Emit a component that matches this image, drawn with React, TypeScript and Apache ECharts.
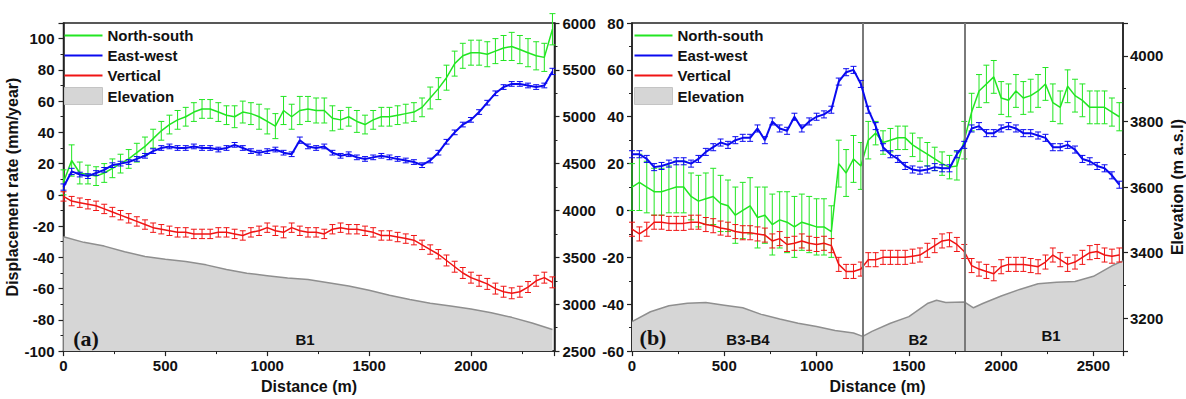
import React, { useEffect, useRef } from "react";
import * as echarts from "echarts";

// ---------- Panel (a) ----------
const DIST_A = [
  0, 40, 80, 120, 160, 200, 240, 280, 320, 360,
  400, 440, 480, 520, 560, 600, 640, 680, 720, 760,
  800, 840, 880, 920, 960, 1000, 1040, 1080, 1120, 1160,
  1200, 1240, 1280, 1320, 1360, 1400, 1440, 1480, 1520, 1560,
  1600, 1640, 1680, 1720, 1760, 1800, 1840, 1880, 1920, 1960,
  2000, 2040, 2080, 2120, 2160, 2200, 2240, 2280, 2320, 2360,
  2400,
];
const NS_A = [
  8, 22, 14, 13, 12, 14, 17, 20, 23, 27,
  31, 36, 41, 45, 48, 50, 53, 55, 55, 53,
  51, 50, 53, 52, 50, 47, 44, 54, 50, 54,
  55, 54, 54, 49, 48, 50, 47, 45, 48, 50,
  50, 51, 52, 53, 56, 62, 68, 75, 84, 89,
  91, 91, 90, 92, 94, 95, 93, 91, 89, 88,
  106,
];
const NS_A_ERR = [
  8, 10, 7, 6, 6, 6, 6, 6, 6, 6,
  6, 6, 6, 6, 6, 6, 6, 6, 6, 6,
  6, 7, 7, 7, 8, 8, 8, 9, 8, 9,
  8, 8, 8, 8, 6, 6, 7, 6, 6, 6,
  6, 6, 6, 6, 6, 7, 7, 8, 8, 8,
  8, 8, 8, 8, 8, 9, 9, 9, 9, 9,
  10,
];
const EW_A = [
  5, 15, 13, 12, 14, 16, 19, 20, 21, 23,
  25, 28, 30, 31, 30, 30, 31, 30, 30, 29,
  30, 32, 30, 28, 27, 28, 29, 27, 26, 35,
  31, 30, 31, 27, 25, 26, 24, 23, 24, 25,
  24, 23, 22, 21, 19, 22, 27, 34, 40, 45,
  48, 53, 59, 65, 69, 71, 71, 70, 69, 70,
  79,
];
const EW_A_ERR = [
  2, 2, 1.5, 1.5, 1.5, 1.5, 1.5, 1.5, 1.5, 1.5,
  1.5, 1.5, 1.5, 1.5, 1.5, 1.5, 1.5, 1.5, 1.5, 1.5,
  1.5, 1.5, 1.5, 1.5, 1.5, 1.5, 1.5, 1.5, 1.5, 2,
  1.5, 1.5, 1.5, 1.5, 1.5, 1.5, 1.5, 1.5, 1.5, 1.5,
  1.5, 1.5, 1.5, 1.5, 1.5, 1.5, 1.5, 1.5, 1.5, 1.5,
  1.5, 1.5, 1.5, 1.5, 1.5, 1.5, 1.5, 1.5, 1.5, 1.5,
  2,
];
const V_A = [
  -1, -4, -5, -6, -7, -9, -11, -13, -15, -17,
  -19, -21, -22, -23, -24, -24, -25, -25, -25, -24,
  -24, -25, -26, -24, -23, -21, -23, -24, -21, -23,
  -24, -24, -25, -22, -21, -22, -22, -23, -24, -26,
  -26, -27, -28, -29, -32, -35, -38, -42, -46, -50,
  -53, -55, -57, -60, -62, -63, -62, -59, -55, -53,
  -56,
];
const V_A_ERR = [
  3, 3, 3, 3, 3, 3, 3, 3, 3, 3,
  3, 3, 3, 3, 3, 3, 3, 3, 3, 3,
  3, 3, 3, 3, 3, 3, 3, 3.5, 3, 3,
  3, 3, 3, 3, 3, 3, 3, 3, 3, 3,
  3, 3, 3, 3, 3, 3, 3, 3.5, 3.5, 3.5,
  3.5, 3.5, 3.5, 3.5, 3.5, 3.5, 3.5, 3.5, 3.5, 3.5,
  3.5,
];
const ELEV_A_DIST = [
  0, 100, 200, 300, 400, 500, 600, 700, 800, 900, 1000, 1100, 1200,
  1300, 1400, 1500, 1600, 1700, 1800, 1900, 2000, 2100, 2200, 2300, 2400,
];
const ELEV_A = [
  3720, 3660, 3620, 3560, 3510, 3480, 3455, 3420, 3370, 3330, 3305, 3280, 3265,
  3230, 3195, 3150, 3095, 3050, 3010, 2980, 2950, 2910, 2860, 2800, 2730,
];

// ---------- Panel (b) ----------
const DIST_B = [
  0, 40, 80, 120, 160, 200, 240, 280, 320, 360,
  400, 440, 480, 520, 560, 600, 640, 680, 720, 760,
  800, 840, 880, 920, 960, 1000, 1040, 1080, 1120, 1160,
  1200, 1240, 1280, 1320, 1360, 1400, 1440, 1480, 1520, 1560,
  1600, 1640, 1680, 1720, 1760, 1800, 1840, 1880, 1920, 1960,
  2000, 2040, 2080, 2120, 2160, 2200, 2240, 2280, 2320, 2360,
  2400, 2440, 2480, 2520, 2560, 2600, 2640,
];
const NS_B = [
  10, 12, 10, 8, 8, 9, 10, 10, 6, 4,
  5, 6, 3, 2, -2, 0, 2, -3, -2, -6,
  -4, -5, -7, -5, -6, -7, -7, -9, 20, 16,
  22, 19, 30, 33, 29, 30, 31, 31, 28, 26,
  24, 22, 20, 18.5, 19, 30, 42, 51, 54, 57,
  48, 47, 51, 48, 49, 51, 54, 46, 44, 53,
  49, 47, 44, 44, 44, 42, 40,
];
const NS_B_ERR = [
  10, 12, 11, 10, 10, 10, 11, 11, 10, 11,
  11, 12, 12, 11, 12, 12, 12, 13, 12, 13,
  12, 13, 13, 12, 12, 12, 12, 11, 10, 10,
  10, 10, 8, 5, 5, 5, 5, 5, 5, 5,
  5, 5, 5, 5, 6, 8, 8, 7, 8, 7,
  7, 7, 7, 7, 7, 7, 7, 8, 7, 7,
  7, 7, 7, 7, 7, 6, 6,
];
const EW_B = [
  24, 24, 22, 18.5, 19, 20, 21, 21, 20, 22,
  25, 27, 29, 28, 30, 31, 31, 35, 30, 38,
  35, 34, 40, 35, 38, 40, 41, 43, 55, 59,
  60, 54, 43, 36, 27, 24, 22, 19, 17.5, 17,
  17.5, 18.5, 18, 18, 24, 28, 35, 36, 33, 33,
  35, 36, 35, 33, 33, 32, 31, 27, 27, 28,
  26, 22, 21, 19, 18, 15, 11,
];
const EW_B_ERR = [
  1.5, 1.5, 1.5, 1.5, 1.5, 1.5, 1.5, 1.5, 1.5, 1.5,
  1.5, 1.5, 1.5, 1.5, 1.5, 1.5, 1.5, 1.5, 1.5, 1.5,
  1.5, 1.5, 1.5, 1.5, 1.5, 1.5, 1.5, 1.5, 1.5, 1.5,
  1.5, 1.5, 1.5, 1.5, 1.5, 1.5, 1.5, 1.5, 1.5, 1.5,
  1.5, 1.5, 1.5, 1.5, 1.5, 1.5, 1.5, 1.5, 1.5, 1.5,
  1.5, 1.5, 1.5, 1.5, 1.5, 1.5, 1.5, 1.5, 1.5, 1.5,
  1.5, 1.5, 1.5, 1.5, 1.5, 1.5, 1.5,
];
const V_B = [
  -8, -10, -8, -5, -5, -5.5, -5.5, -5.5, -5, -5,
  -6, -6.5, -7.5, -8, -9, -9.5, -9.5, -10, -10.5, -13,
  -12, -14.5, -14, -13, -14, -14.5, -14, -15, -23, -26,
  -26, -25, -21, -21, -20, -20, -20, -20, -19.5, -19,
  -17, -15, -13, -12.5, -14.5, -17.5, -23.5, -25, -26, -27,
  -24, -23, -23, -23, -23.5, -24, -22, -19, -21, -23,
  -22, -20, -18, -17.5, -19, -19.5, -19,
];
const V_B_ERR = [
  3, 3, 3, 3, 3, 3, 3, 3, 3, 3,
  3, 3, 3, 3, 3, 3, 3, 3, 3, 3,
  3, 3, 3, 3, 3, 3, 3, 3, 3, 3,
  3, 3, 3, 3, 3, 3, 3, 3, 3, 3,
  3, 3, 3, 3, 3, 3, 3, 3, 3, 3,
  3, 3, 3, 3, 3, 3, 3, 3, 3, 3,
  3, 3, 3, 3, 3, 3, 3,
];
const ELEV_B_DIST = [
  0, 100, 200, 300, 400, 500, 600, 700, 800, 900, 1000, 1100, 1200, 1250,
  1300, 1400, 1500, 1600, 1650, 1700, 1800, 1850, 1900, 2000, 2100, 2200,
  2300, 2400, 2500, 2600, 2660,
];
const ELEV_B = [
  3190, 3220, 3238, 3246, 3248, 3240, 3232, 3212, 3198, 3185, 3175, 3163, 3155, 3145,
  3160, 3185, 3205, 3245, 3255, 3248, 3250, 3232, 3245, 3268, 3288, 3305,
  3310, 3312, 3328, 3360, 3375,
];
const BOUNDARIES_B = [1250, 1800];

const LEGEND_NAMES = ["North-south", "East-west", "Vertical", "Elevation"];

const GREEN = "#22e622";
const BLUE = "#0a0af0";
const RED = "#f01414";
const ELEV_FILL = "#d6d6d6";
const ELEV_LINE = "#8f8f8f";
const FONT = "Liberation Sans";
const INK = "#111";

// legend line icon: tiny anchor points fix the 38x17 box, the bar sits in the middle
const LINE_ICON =
  "path://M0,0L0.01,0L0.01,0.01ZM0,7.5L38,7.5L38,9.5L0,9.5ZM37.99,17L38,17L38,16.99Z";

const zip = (xs: number[], ys: number[]) => xs.map((x, i) => [x, ys[i]]);
const errData = (xs: number[], ys: number[], es: number[]) =>
  xs.map((x, i) => [x, ys[i] - es[i], ys[i] + es[i]]);

const errRender = (color: string) => (params: any, api: any) => {
  const x = api.value(0);
  const lo = api.coord([x, api.value(1)]);
  const hi = api.coord([x, api.value(2)]);
  const w = 3;
  const style = { stroke: color, lineWidth: 1 };
  return {
    type: "group",
    children: [
      { type: "line", shape: { x1: lo[0], y1: lo[1], x2: hi[0], y2: hi[1] }, style },
      { type: "line", shape: { x1: lo[0] - w, y1: lo[1], x2: lo[0] + w, y2: lo[1] }, style },
      { type: "line", shape: { x1: hi[0] - w, y1: hi[1], x2: hi[0] + w, y2: hi[1] }, style },
    ],
  };
};

const axisLine = { show: true, onZero: false, lineStyle: { color: "#222", width: 1.5 } };
const axisTick = { show: true, inside: false, length: 5, lineStyle: { color: "#222", width: 1.2 } };
const minorTick = { show: true, splitNumber: 2, length: 3, lineStyle: { color: "#222", width: 1 } };
const plain = (v: number) => String(v);
const labelStyle = { color: INK, fontFamily: FONT, fontWeight: "bold", fontSize: 15, formatter: plain };
const nameStyle = { color: INK, fontFamily: FONT, fontWeight: "bold", fontSize: 16 };

function panelSeries(
  gi: number,
  yMain: number,
  yElev: number,
  dist: number[],
  ns: number[], nsErr: number[],
  ew: number[], ewErr: number[],
  v: number[], vErr: number[],
  elevDist: number[], elev: number[],
  boundaries: number[]
) {
  const elevSeries: any = {
    type: "line",
    name: "Elevation",
    xAxisIndex: gi,
    yAxisIndex: yElev,
    data: zip(elevDist, elev),
    symbol: "none",
    lineStyle: { color: ELEV_LINE, width: 1.5 },
    itemStyle: { color: ELEV_FILL },
    areaStyle: { color: ELEV_FILL, opacity: 1, origin: "start" },
    z: 1,
  };
  if (boundaries.length) {
    elevSeries.markLine = {
      silent: true,
      symbol: ["none", "none"],
      label: { show: false },
      lineStyle: { color: "#7a7a7a", width: 2, type: "solid" },
      data: boundaries.map((b) => ({ xAxis: b })),
    };
  }
  const line = (name: string, ys: number[], color: string, width: number, z: number) => ({
    type: "line",
    name,
    xAxisIndex: gi,
    yAxisIndex: yMain,
    data: zip(dist, ys),
    symbol: "none",
    lineStyle: { color, width },
    itemStyle: { color },
    z,
  });
  const err = (name: string, ys: number[], es: number[], color: string, z: number) => ({
    type: "custom",
    name,
    xAxisIndex: gi,
    yAxisIndex: yMain,
    data: errData(dist, ys, es),
    encode: { x: 0, y: [1, 2] },
    renderItem: errRender(color),
    itemStyle: { color },
    z,
  });
  return [
    elevSeries,
    line("North-south", ns, GREEN, 1.5, 3),
    line("East-west", ew, BLUE, 2, 5),
    line("Vertical", v, RED, 1.5, 4),
    err("North-south", ns, nsErr, GREEN, 3),
    err("East-west", ew, ewErr, BLUE, 5),
    err("Vertical", v, vErr, RED, 4),
  ];
}

const LEGEND_COLORS: Record<string, string> = {
  "North-south": GREEN,
  "East-west": BLUE,
  Vertical: RED,
};

function legendAt(left: number) {
  return {
    left,
    top: 22,
    padding: 5,
    orient: "vertical",
    itemWidth: 38,
    itemHeight: 17,
    itemGap: 3,
    itemTextGap: 4,
    textStyle: { color: INK, fontFamily: FONT, fontWeight: "bold", fontSize: 15 },
    data: LEGEND_NAMES.map((n) =>
      n === "Elevation"
        ? { name: n, icon: "rect", itemStyle: { color: ELEV_FILL, borderColor: "#c4c4c4", borderWidth: 1 } }
        : { name: n, icon: LINE_ICON, itemStyle: { color: LEGEND_COLORS[n], borderWidth: 0 } }
    ),
  };
}

const textEl = (x: number, y: number, text: string, font: string, size: number) => ({
  type: "text",
  x,
  y,
  style: {
    text,
    fill: INK,
    font: `bold ${size}px "${font}"`,
    textAlign: "center",
    textVerticalAlign: "middle",
  },
  z: 10,
});

export default function App() {
  const ref = useRef<HTMLDivElement>(null);
  useEffect(() => {
    if (!ref.current) return;
    const chart = echarts.init(ref.current, null, { renderer: "svg" });
    const option: any = {
      animation: false,
      backgroundColor: "#fff",
      grid: [
        { left: 63.5, top: 23, width: 491, height: 332, show: true, borderColor: "#222", borderWidth: 1.5, containLabel: false },
        { left: 632, top: 23, width: 491, height: 332, show: true, borderColor: "#222", borderWidth: 1.5, containLabel: false },
      ],
      xAxis: [
        {
          type: "value", gridIndex: 0, min: 0, max: 2410, interval: 500,
          axisLine, axisTick, minorTick, splitLine: { show: false },
          axisLabel: { ...labelStyle, margin: 7, showMaxLabel: false },
          name: "Distance (m)", nameLocation: "middle", nameGap: 25, nameTextStyle: nameStyle,
        },
        {
          type: "value", gridIndex: 1, min: 0, max: 2660, interval: 500,
          axisLine, axisTick, minorTick, splitLine: { show: false },
          axisLabel: { ...labelStyle, margin: 7, showMaxLabel: false },
          name: "Distance (m)", nameLocation: "middle", nameGap: 25, nameTextStyle: nameStyle,
        },
      ],
      yAxis: [
        {
          type: "value", gridIndex: 0, position: "left", min: -100, max: 110, interval: 20,
          axisLine, axisTick, minorTick, splitLine: { show: false },
          axisLabel: { ...labelStyle, margin: 9, showMaxLabel: false },
          name: "Displacement rate (mm/year)", nameLocation: "middle", nameGap: 38, nameTextStyle: nameStyle,
        },
        {
          type: "value", gridIndex: 0, position: "right", min: 2500, max: 6000, interval: 500,
          axisLine, axisTick, minorTick, splitLine: { show: false },
          axisLabel: { ...labelStyle, margin: 8 },
        },
        {
          type: "value", gridIndex: 1, position: "left", min: -60, max: 80, interval: 20,
          axisLine, axisTick, minorTick, splitLine: { show: false },
          axisLabel: { ...labelStyle, margin: 8 },
        },
        {
          type: "value", gridIndex: 1, position: "right", min: 3100, max: 4100, splitNumber: 5,
          axisLine, axisTick, minorTick, splitLine: { show: false },
          axisLabel: { ...labelStyle, margin: 7, showMinLabel: false, showMaxLabel: false },
          name: "Elevation (m a.s.l)", nameLocation: "middle", nameGap: 46, nameTextStyle: nameStyle,
        },
      ],
      legend: [legendAt(59), legendAt(629)],
      series: [
        ...panelSeries(0, 0, 1, DIST_A, NS_A, NS_A_ERR, EW_A, EW_A_ERR, V_A, V_A_ERR, ELEV_A_DIST, ELEV_A, []),
        ...panelSeries(1, 2, 3, DIST_B, NS_B, NS_B_ERR, EW_B, EW_B_ERR, V_B, V_B_ERR, ELEV_B_DIST, ELEV_B, BOUNDARIES_B),
      ],
      graphic: [
        textEl(86, 338, "(a)", "Liberation Serif", 22),
        textEl(305, 339, "B1", FONT, 15),
        textEl(653, 337, "(b)", "Liberation Serif", 22),
        textEl(748, 339, "B3-B4", FONT, 15),
        textEl(918, 339, "B2", FONT, 15),
        textEl(1051, 335, "B1", FONT, 15),
      ],
    };
    chart.setOption(option);
    return () => chart.dispose();
  }, []);
  return (
    <div
      ref={ref}
      style={{ position: "absolute", left: 0, top: 0, width: 1186, height: 399 }}
    />
  );
}
